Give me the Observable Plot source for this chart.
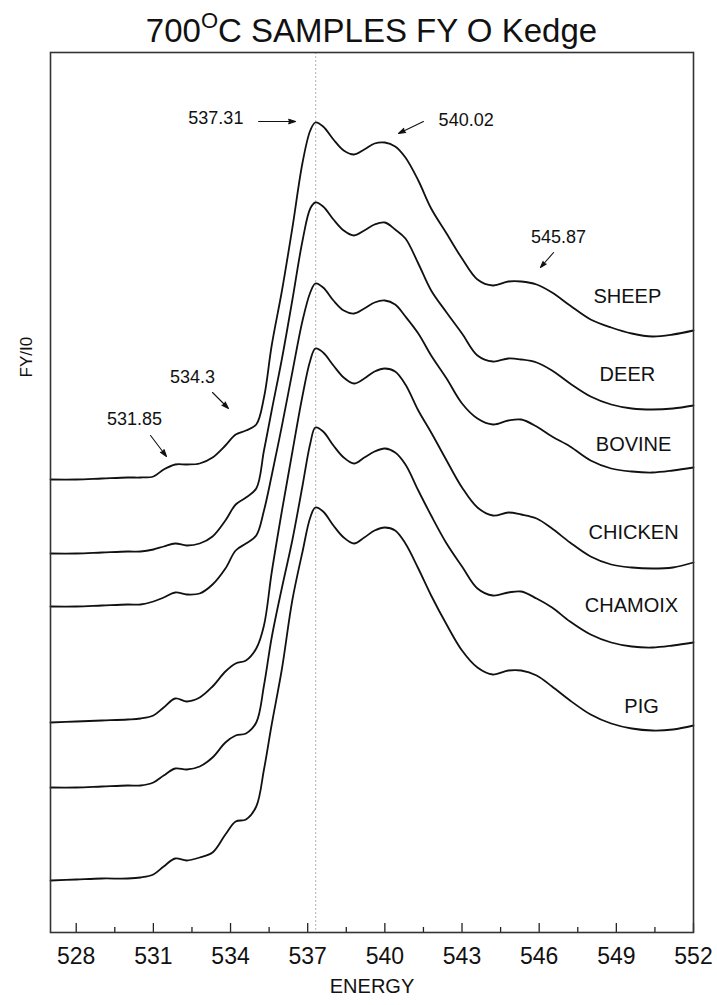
<!DOCTYPE html>
<html>
<head>
<meta charset="utf-8">
<script src="https://cdn.jsdelivr.net/npm/d3@7"></script>
<script src="https://cdn.jsdelivr.net/npm/@observablehq/plot@0.6"></script>
<style>
  html, body { margin: 0; padding: 0; background: #fff; }
  #wrap { width: 717px; height: 1005px; position: relative; font-family: "Liberation Sans", Arial, sans-serif; color: #111; }
  #title { position: relative; height: 48px; width: 717px; }
  #title .t { position: absolute; left: 50px; width: 643px; top: 15px; text-align: center; font-size: 33px; line-height: 32px; white-space: nowrap; }
  #title .sup { font-size: 22px; position: relative; top: -14px; }
  svg { display: block; }
</style>
</head>
<body>
<div id="wrap">
  <div id="title"><div class="t">700<span class="sup">O</span>C SAMPLES FY O Kedge</div></div>
  <div id="chart"></div>
</div>
<script>
// Energies (eV) at which the curves were read
const energy = [527, 528, 529, 530, 530.5, 531, 531.4, 531.85, 532.3, 532.8, 533.3, 533.8, 534.2, 534.6, 535.0, 535.3, 535.6, 536.0, 536.4, 536.8, 537.1, 537.3, 537.6, 538.0, 538.4, 538.8, 539.2, 539.6, 540.0, 540.4, 540.8, 541.3, 541.8, 542.4, 543.0, 543.6, 544.2, 544.8, 545.3, 545.9, 546.5, 547.2, 548.0, 548.8, 549.6, 550.4, 551.2, 552];

// FY/I0 (stacked, arbitrary units)
const sheep   = [4.53,4.53,4.54,4.55,4.55,4.56,4.63,4.68,4.68,4.69,4.75,4.87,4.98,5.02,5.08,5.35,5.87,6.42,7.04,7.70,8.02,8.10,8.06,7.93,7.82,7.78,7.83,7.89,7.90,7.86,7.75,7.52,7.24,6.99,6.74,6.53,6.47,6.51,6.51,6.48,6.40,6.27,6.13,6.05,5.99,5.96,5.98,6.02];
const deer    = [3.79,3.79,3.80,3.81,3.81,3.83,3.86,3.89,3.87,3.89,3.96,4.12,4.28,4.35,4.44,4.82,5.22,5.74,6.32,6.92,7.24,7.30,7.26,7.13,7.02,6.97,7.02,7.08,7.10,7.03,6.94,6.69,6.42,6.20,5.99,5.77,5.71,5.74,5.73,5.70,5.62,5.49,5.36,5.28,5.24,5.23,5.24,5.27];
const bovine  = [3.26,3.26,3.27,3.28,3.28,3.31,3.35,3.40,3.38,3.39,3.48,3.64,3.82,3.89,3.97,4.22,4.57,5.07,5.60,6.12,6.40,6.49,6.45,6.32,6.22,6.19,6.24,6.30,6.32,6.28,6.16,5.99,5.77,5.54,5.29,5.14,5.08,5.12,5.13,5.06,4.96,4.86,4.72,4.64,4.61,4.60,4.62,4.65];
const chicken = [2.10,2.11,2.12,2.13,2.14,2.17,2.25,2.34,2.31,2.35,2.46,2.61,2.69,2.72,2.84,3.07,3.60,4.22,4.80,5.37,5.72,5.84,5.80,5.67,5.55,5.49,5.54,5.61,5.64,5.61,5.48,5.22,5.00,4.72,4.45,4.25,4.17,4.20,4.18,4.14,4.04,3.90,3.76,3.68,3.65,3.64,3.65,3.70];
const chamoix = [1.45,1.45,1.46,1.47,1.47,1.50,1.57,1.64,1.63,1.66,1.75,1.90,1.97,1.99,2.10,2.47,2.95,3.45,3.92,4.47,4.89,5.05,5.01,4.87,4.75,4.69,4.75,4.81,4.84,4.80,4.68,4.42,4.17,3.89,3.66,3.44,3.37,3.40,3.41,3.34,3.25,3.11,2.98,2.90,2.86,2.85,2.87,2.90];
const pig     = [0.52,0.53,0.54,0.54,0.55,0.58,0.66,0.74,0.72,0.75,0.80,0.98,1.11,1.13,1.26,1.63,2.08,2.64,3.32,3.81,4.15,4.25,4.21,4.07,3.95,3.89,3.95,4.02,4.05,4.02,3.89,3.64,3.37,3.08,2.82,2.65,2.58,2.62,2.62,2.57,2.46,2.32,2.18,2.09,2.04,2.02,2.03,2.07];

const sampleNames = ["SHEEP", "DEER", "BOVINE", "CHICKEN", "CHAMOIX", "PIG"];
const labelEnergy = [549.43, 549.43, 549.67, 549.67, 549.59, 549.98];
const labelLevel  = [6.36, 5.58, 4.88, 4.00, 3.27, 2.26];

// Peak annotations
const peakText   = ["537.31", "540.02", "545.87", "534.3", "531.85"];
const peakTextX  = [534.50, 542.09, 546.75, 532.52, 530.27];
const peakTextY  = [8.14, 8.12, 6.95, 5.55, 5.13];
const peakAnchor = ["end", "start", "middle", "middle", "middle"];
const arrowX1 = [535.09, 541.50, 546.56, 533.30, 530.89];
const arrowY1 = [8.11, 8.11, 6.80, 5.40, 4.97];
const arrowX2 = [536.53, 540.53, 546.05, 533.92, 531.51];
const arrowY2 = [8.11, 7.99, 6.65, 5.24, 4.76];

const refLine = [537.31];
const majorTicks = [528, 531, 534, 537, 540, 543, 546, 549, 552];
const minorTicks = [529.5, 532.5, 535.5, 538.5, 541.5, 544.5, 547.5, 550.5];

const series = [sheep, deer, bovine, chicken, chamoix, pig];
const tidy = series.flatMap((vals, s) => vals.map((v, i) => ({sample: sampleNames[s], energy: energy[i], value: v})));
const labels = sampleNames.map((n, i) => ({name: n, x: labelEnergy[i], y: labelLevel[i]}));
const notes = peakText.map((t, i) => ({t, x: peakTextX[i], y: peakTextY[i], a: peakAnchor[i]}));
const arrows = arrowX1.map((_, i) => ({x1: arrowX1[i], y1: arrowY1[i], x2: arrowX2[i], y2: arrowY2[i]}));

const yDomain = [0, 8.8];
const plotH = 880; // inner plot height in px
const unit = (yDomain[1] - yDomain[0]) / plotH;
const font = "Liberation Sans, Arial, sans-serif";

const noteMark = (anchor) => Plot.text(notes.filter(d => d.a === anchor), {x: "x", y: "y", text: "t", textAnchor: anchor, fontSize: 18, fill: "#111"});

const chart = Plot.plot({
  width: 717,
  height: 957,
  marginTop: 4,
  marginBottom: 73,
  marginLeft: 50,
  marginRight: 24,
  x: {domain: [527, 552]},
  y: {domain: yDomain, axis: null},
  style: {fontFamily: font, color: "#111", background: "white"},
  marks: [
    Plot.ruleX(refLine, {stroke: "#aaa", strokeWidth: 0.9, strokeDasharray: "2,2"}),
    Plot.ruleX(majorTicks, {x: d => d, y1: yDomain[0], y2: yDomain[0] + 9 * unit, stroke: "#222", strokeWidth: 1.3}),
    Plot.ruleX(minorTicks, {x: d => d, y1: yDomain[0], y2: yDomain[0] + 5 * unit, stroke: "#222", strokeWidth: 1.3}),
    Plot.axisX({ticks: majorTicks, tickSize: 0, tickPadding: 15, fontSize: 23, label: null, tickFormat: d => String(d)}),
    Plot.line(tidy, {x: "energy", y: "value", z: "sample", stroke: "#111", strokeWidth: 1.8, curve: "catmull-rom"}),
    Plot.text(labels, {x: "x", y: "y", text: "name", fontSize: 20, fill: "#111"}),
    noteMark("start"),
    noteMark("middle"),
    noteMark("end"),
    Plot.arrow(arrows, {x1: "x1", y1: "y1", x2: "x2", y2: "y2", stroke: "#111", fill: "#111", strokeWidth: 1.1, headLength: 10, headAngle: 36}),
    Plot.text(["ENERGY"], {frameAnchor: "bottom", dy: 60, fontSize: 20, fill: "#111"}),
    Plot.text(["FY/I0"], {frameAnchor: "top-left", dx: -31, dy: 325, rotate: -90, fontSize: 17, fill: "#111"}),
    Plot.frame({stroke: "#333", strokeWidth: 1.6})
  ]
});
document.getElementById("chart").appendChild(chart);
</script>
</body>
</html>
